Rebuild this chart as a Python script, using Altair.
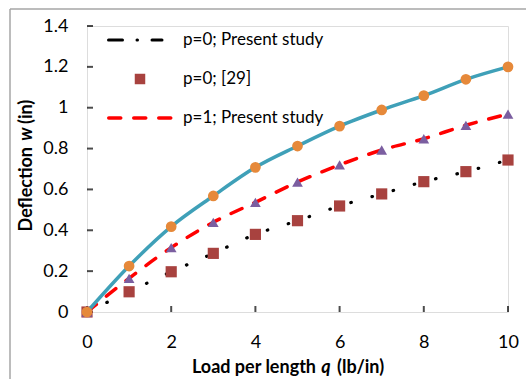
import altair as alt
import pandas as pd

# ---- data ----
Q = [0, 1, 2, 3, 4, 5, 6, 7, 8, 9, 10]
P0_PRESENT = [0, 0.099, 0.197, 0.287, 0.380, 0.447, 0.519, 0.578, 0.638, 0.687, 0.744]
P0_REF29 = [0, 0.099, 0.197, 0.287, 0.380, 0.447, 0.519, 0.578, 0.638, 0.687, 0.744]
P1_PRESENT = [0, 0.165, 0.315, 0.439, 0.537, 0.636, 0.720, 0.793, 0.848, 0.914, 0.969]
P1_MARKERS = [0, 0.165, 0.315, 0.439, 0.537, 0.636, 0.720, 0.793, 0.848, 0.914, 0.969]
TOP_LINE = [0, 0.225, 0.418, 0.568, 0.708, 0.8125, 0.910, 0.989, 1.059, 1.139, 1.200]
TOP_MARKERS = [0, 0.225, 0.418, 0.568, 0.708, 0.8125, 0.910, 0.989, 1.059, 1.139, 1.200]

X_TICKS = [0, 2, 4, 6, 8, 10]
Y_TICKS = [0, 0.2, 0.4, 0.6, 0.8, 1.0, 1.2, 1.4]
LEGEND_LABELS = ["p=0; Present study", "p=0; [29]", "p=1; Present study"]

# axis titles in three pieces (the variable is italic)
X_TITLE_PARTS = ["Load per length", "q", "(lb/in)"]
Y_TITLE_PARTS = ["Deflection", "w", "(in)"]

FONT = "Lato"
W, H = 421, 286

df = pd.DataFrame({
    "q": Q, "p0": P0_PRESENT, "ref29": P0_REF29, "p1": P1_PRESENT,
    "p1m": P1_MARKERS, "top": TOP_LINE, "topm": TOP_MARKERS,
})

xscale = alt.Scale(domain=[0, 10], nice=False, zero=False)
yscale = alt.Scale(domain=[0, 1.4], nice=False, zero=False)
xaxis = alt.Axis(values=X_TICKS, grid=False, ticks=False, domain=False, labelFlush=False,
                 labelPadding=21, labelFontSize=18, labelFont=FONT, labelColor="black",
                 title=None)
yaxis = alt.Axis(values=Y_TICKS, grid=False, ticks=False, domain=False, format="~g",
                 labelFlush=False,
                 labelPadding=19, labelFontSize=18, labelFont=FONT, labelColor="black",
                 title=None)


def X(f):
    return alt.X(f"{f}:Q", scale=xscale, axis=xaxis, title=None)


def Y(f):
    return alt.Y(f"{f}:Q", scale=yscale, axis=yaxis, title=None)


base = alt.Chart(df)

black_line = base.mark_line(color="black", strokeWidth=3.2, strokeDash=[0.5, 21.5],
                            strokeCap="round",
                            interpolate="monotone").encode(x=X("q"), y=Y("p0"))
squares = base.mark_square(size=125, color="#A8423F", opacity=1).encode(x=X("q"), y=Y("ref29"))
red_line = base.mark_line(color="#FF0000", strokeWidth=3.5, strokeDash=[12, 13],
                          strokeCap="round", interpolate="monotone").encode(x=X("q"), y=Y("p1"))
triangles = base.mark_point(shape="triangle-up", filled=True, size=115, color="#7B5EA0",
                            opacity=1).encode(x=X("q"), y=Y("p1m"))
teal_line = base.mark_line(color="#3FA0B8", strokeWidth=3.5,
                           interpolate="monotone").encode(x=X("q"), y=Y("top"))
circles = base.mark_point(shape="circle", filled=True, size=115, color="#E6893A",
                          opacity=1).encode(x=X("q"), y=Y("topm"))

# inward ticks
xt = alt.Chart(pd.DataFrame({"t": X_TICKS})).mark_tick(
    orient="vertical", size=6, thickness=2, color="black").encode(x=X("t"), y=alt.value(H - 3))
yt = alt.Chart(pd.DataFrame({"t": Y_TICKS})).mark_tick(
    orient="horizontal", size=6, thickness=2, color="black").encode(y=Y("t"), x=alt.value(3))

# manual legend
one = pd.DataFrame({"a": [0]})
leg_black = alt.Chart(one).mark_rule(color="black", strokeWidth=3, strokeDash=[14, 14.5, 0.5, 14.5],
                                     strokeCap="round").encode(
    x=alt.value(21.5), x2=alt.value(75), y=alt.value(14))
leg_square = alt.Chart(one).mark_square(size=110, color="#A8423F", opacity=1).encode(
    x=alt.value(53), y=alt.value(53))
leg_red = alt.Chart(one).mark_rule(color="#FF0000", strokeWidth=3.5, strokeDash=[12, 13],
                                   strokeCap="round").encode(
    x=alt.value(21.75), x2=alt.value(86.25), y=alt.value(92))
LEG_Y = [14, 53, 92]
leg_texts = [
    alt.Chart(pd.DataFrame({"label": [lab]})).mark_text(
        align="left", baseline="middle", font=FONT, fontSize=17, color="black").encode(
        x=alt.value(96), y=alt.value(yy), text="label:N")
    for lab, yy in zip(LEGEND_LABELS, LEG_Y)
]


def title_piece(txt, align, style, x, y, angle=0):
    return alt.Chart(pd.DataFrame({"t": [txt]})).mark_text(
        align=align, baseline="middle", font=FONT, fontSize=18, fontWeight="bold",
        fontStyle=style, color="black", angle=angle).encode(
        x=alt.value(x), y=alt.value(y), text="t:N")


# x title pieces (plot-relative coordinates)
XT_Y = H + 56
x_title = [
    title_piece(X_TITLE_PARTS[0], "right", "normal", 229, XT_Y),
    title_piece(X_TITLE_PARTS[1], "center", "italic", 239, XT_Y),
    title_piece(X_TITLE_PARTS[2], "left", "normal", 250, XT_Y),
]
YT_X = -60
y_title = [
    title_piece(Y_TITLE_PARTS[0], "right", "normal", YT_X, 121, angle=270),
    title_piece(Y_TITLE_PARTS[1], "center", "italic", YT_X, 108, angle=270),
    title_piece(Y_TITLE_PARTS[2], "left", "normal", YT_X, 98, angle=270),
]

# outer chart border (left and top edges visible)
border_v = alt.Chart(one).mark_rule(color="#A6A6A6", strokeWidth=1.5).encode(
    x=alt.value(-77), y=alt.value(-17), y2=alt.value(H + 67))
border_h = alt.Chart(one).mark_rule(color="#A6A6A6", strokeWidth=1.5).encode(
    x=alt.value(-77), x2=alt.value(W + 18), y=alt.value(-17))

chart = alt.layer(
    border_v, border_h, xt, yt,
    black_line, squares, red_line, triangles, teal_line, circles,
    leg_black, leg_square, leg_red, *leg_texts, *x_title, *y_title,
).properties(
    width=W, height=H,
    autosize=alt.AutoSizeParams(type="none"),
    padding={"left": 87, "top": 26, "right": 18, "bottom": 67},
).configure_view(stroke="black", strokeWidth=2.5).configure(background="white")

chart.save("out.html", embed_options={"renderer": "svg", "actions": False})
